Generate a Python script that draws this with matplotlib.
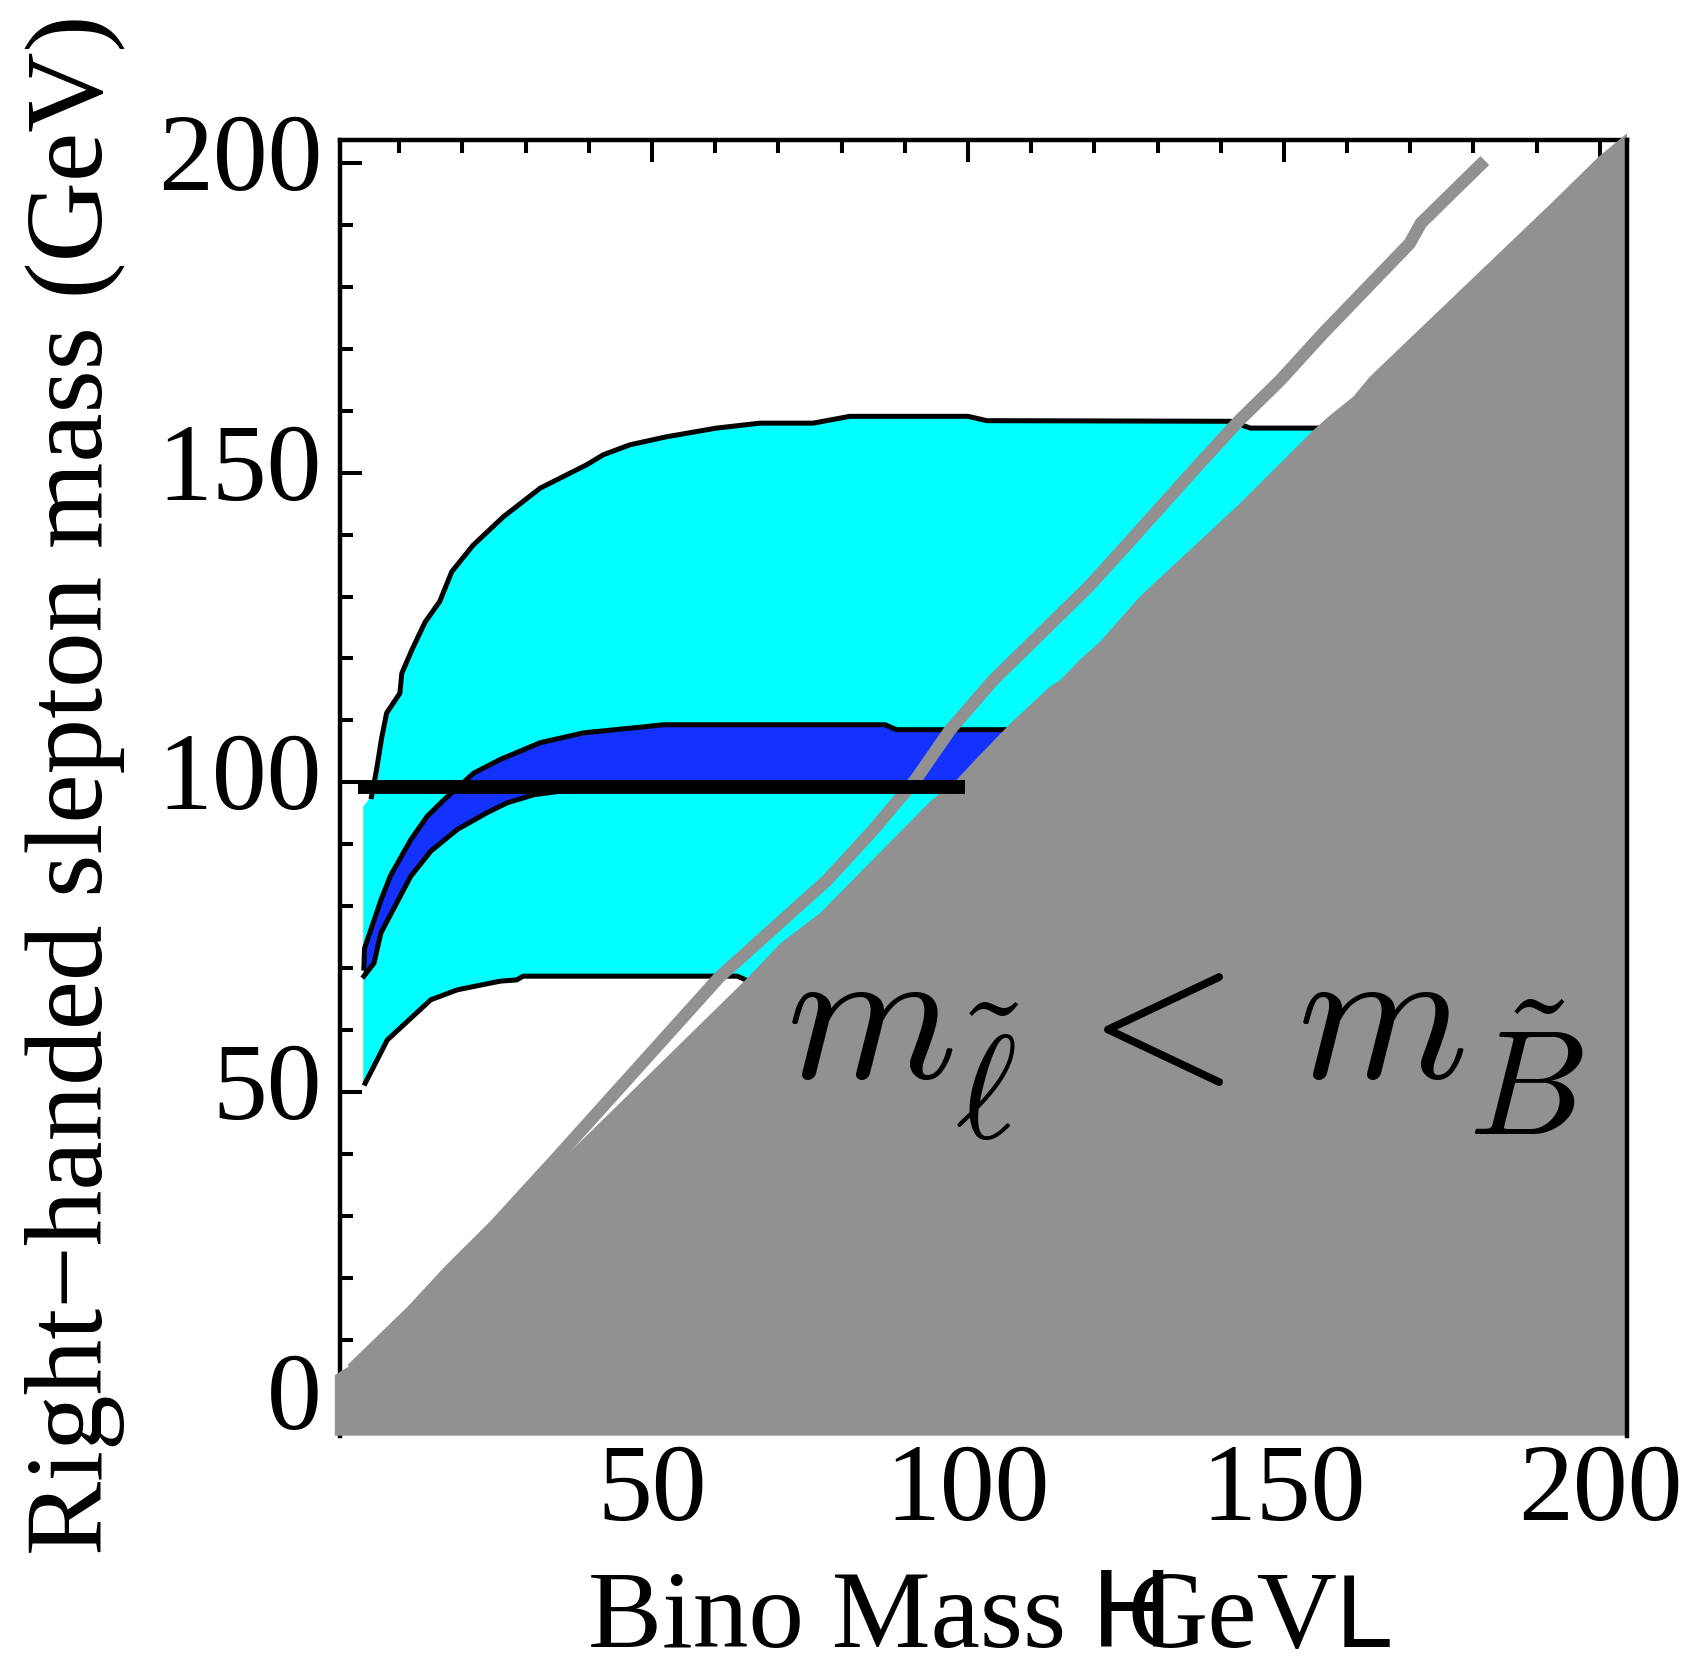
import matplotlib
matplotlib.use("Agg")
import matplotlib.pyplot as plt
from matplotlib import transforms
from matplotlib.ticker import MultipleLocator, FixedLocator

plt.rcParams["mathtext.fontset"] = "cm"

# ---- data (GeV): x = bino mass, y = right-handed slepton mass ----
# outer allowed band (cyan)
cyan_upper_x = [4.3, 5.6, 6.4, 7.2, 8.0, 10.1, 10.4, 12.0, 14.1, 16.4, 18.3, 21.7,
                26.5, 32.3, 39.7, 42.3, 46.5, 52.3, 60.2, 67.1, 75.5, 81.3, 100.0,
                103.0, 141.6, 144.7, 170.0]
cyan_upper_y = [96.1, 97.7, 102.0, 107.1, 111.2, 114.4, 117.6, 121.4, 125.9, 129.2,
                134.0, 138.3, 142.9, 147.5, 151.3, 152.9, 154.5, 155.8, 157.2, 158.0,
                158.0, 159.1, 159.1, 158.4, 158.3, 157.2, 157.2]
cyan_lower_x = [4.3, 4.6, 8.1, 15.0, 19.2, 26.0, 28.6, 29.6, 63.5, 65.5, 75.0]
cyan_lower_y = [51.4, 51.4, 58.4, 64.9, 66.5, 67.9, 68.1, 68.7, 68.7, 67.8, 67.8]

# inner allowed band (blue)
blue_upper_x = [4.4, 4.5, 7.1, 8.6, 11.8, 14.4, 17.1, 21.8, 26.0, 32.3, 39.2, 47.1,
                51.8, 86.9, 88.7, 115.0]
blue_upper_y = [70.0, 73.2, 81.0, 84.9, 90.7, 94.5, 97.2, 101.5, 103.7, 106.4, 108.0,
                108.8, 109.3, 109.3, 108.5, 108.5]
blue_lower_x = [4.4, 6.0, 7.1, 11.8, 15.0, 19.2, 23.9, 27.1, 31.3, 40.0, 55.0, 110.0]
blue_lower_y = [68.7, 70.8, 75.7, 84.8, 88.9, 92.4, 95.1, 96.7, 98.0, 99.2, 99.5, 99.5]

# edge of the region where the slepton is lighter than the bino (gray)
excl_x = [-0.2, -0.2, 3.0, 34.5, 65.0, 70.3, 76.6, 94.0, 98.2, 101.4, 106.7, 113.0,
          114.6, 117.7, 120.9, 127.2, 143.1, 154.7, 157.0, 161.0, 163.6, 192.3, 199.8, 204.3]
excl_y = [-5.5, 4.3, 6.3, 37.8, 68.3, 74.0, 78.9, 96.9, 100.4, 103.9, 109.5, 115.5,
          116.5, 119.8, 122.7, 130.0, 145.1, 156.9, 159.0, 162.3, 165.5, 193.5, 201.0, 204.8]

# gray curve
gline_x = [2.5, 12.0, 18.0, 25.0, 34.5, 60.7, 77.7, 85.0, 91.7, 97.2, 104.0, 119.1,
           124.9, 136.7, 143.0, 149.5, 156.2, 169.9, 171.7, 181.8]
gline_y = [5.2, 14.6, 21.2, 28.3, 38.9, 68.6, 84.2, 92.3, 100.4, 108.5, 116.5, 131.6,
           138.1, 151.5, 158.5, 165.0, 172.5, 187.0, 190.3, 200.4]

# horizontal bound on the slepton mass
bound_mass = 99.3
bound_x = [3.5, 99.5]

x_major = [50, 100, 150, 200]
y_major = [0, 50, 100, 150, 200]
x_labels = ["50", "100", "150", "200"]
y_labels = ["0", "50", "100", "150", "200"]

XLIM = (0.62, 204.3)
YLIM = (-5.5, 203.8)

CYAN = "#00FFFF"
BLUE = "#1432FF"
GRAY = "#919191"
SERIF = "Liberation Serif"
SANS = "Liberation Sans"

W, H = 1692, 1671
fig = plt.figure(figsize=(W / 100, H / 100), dpi=100)
ax = fig.add_axes([340 / W, 1 - 1435.7 / H, 1287 / W, 1296.2 / H])
ax.set_xlim(*XLIM)
ax.set_ylim(*YLIM)

# filled bands
cyan_poly_x = cyan_upper_x + cyan_lower_x[::-1]
cyan_poly_y = cyan_upper_y + cyan_lower_y[::-1]
ax.fill(cyan_poly_x, cyan_poly_y, color=CYAN, lw=0, zorder=1)
blue_poly_x = blue_upper_x + blue_lower_x[::-1]
blue_poly_y = blue_upper_y + blue_lower_y[::-1]
ax.fill(blue_poly_x, blue_poly_y, color=BLUE, lw=0, zorder=1.1)

# band outlines
for xs, ys in [(cyan_upper_x[1:], cyan_upper_y[1:]), (cyan_lower_x[1:], cyan_lower_y[1:]),
               (blue_upper_x, blue_upper_y), (blue_lower_x, blue_lower_y)]:
    ax.plot(xs, ys, color="black", lw=3.6, solid_joinstyle="round", zorder=1.5)

# gray curve
ax.plot(gline_x, gline_y, color=GRAY, lw=9, solid_capstyle="butt", zorder=2)

# excluded region
ex_x = excl_x + [XLIM[1]]
ex_y = excl_y + [YLIM[0]]
ax.fill(ex_x, ex_y, color=GRAY, lw=0, zorder=3, clip_on=False)

# horizontal bound
ax.plot(bound_x, [bound_mass, bound_mass], color="black", lw=10,
        solid_capstyle="butt", zorder=4)

# frame and ticks
for s in ax.spines.values():
    s.set_linewidth(3.2)
ax.spines["bottom"].set_visible(False)
ax.spines["right"].set_zorder(5)
ax.xaxis.set_major_locator(FixedLocator(x_major))
ax.yaxis.set_major_locator(FixedLocator(y_major))
ax.xaxis.set_minor_locator(MultipleLocator(10))
ax.yaxis.set_minor_locator(MultipleLocator(10))
ax.tick_params(which="both", direction="in", top=True, bottom=False, left=True,
               right=False, labelleft=False, labelbottom=False, width=2.9)
ax.tick_params(which="major", length=15.8)
ax.tick_params(which="minor", length=9)

# tick labels
px = 1 / 100
ytr = ax.get_yaxis_transform() + transforms.ScaledTranslation(-18 * px, -27 * px, fig.dpi_scale_trans)
for v, lab in zip(y_major, y_labels):
    ax.text(0, v, lab, transform=ytr, ha="right", va="baseline", fontsize=79,
            family=SERIF, clip_on=False)
xtr = ax.get_xaxis_transform() + transforms.ScaledTranslation(0, -84 * px, fig.dpi_scale_trans)
for v, lab in zip(x_major, x_labels):
    ax.text(v, 0, lab, transform=xtr, ha="center", va="baseline", fontsize=79,
            family=SERIF, clip_on=False)


def ftext(x, y, s, **kw):
    """Place text at figure pixel coordinates (origin top-left)."""
    return fig.text(x / W, 1 - y / H, s, **kw)


# axis titles
ftext(102, 785, "Right\u2212handed slepton mass (GeV)", rotation=90,
      rotation_mode="anchor", ha="center", va="baseline", fontsize=80, family=SERIF)
XB = 1647
ftext(588, XB, "Bino Mass", ha="left", va="baseline", fontsize=80, family=SERIF)
ftext(1092, XB, "H", ha="left", va="baseline", fontsize=80, family=SANS)
ftext(1128, XB, "GeV", ha="left", va="baseline", fontsize=80, family=SERIF)
ftext(1336, XB, "L", ha="left", va="baseline", fontsize=74, family=SANS)

# region label: m_slepton < m_bino
ftext(786, 1078, r"$m$", ha="left", va="baseline", fontsize=140, zorder=6)
ftext(955, 1139, r"$\tilde{\ell}$", ha="left", va="baseline", fontsize=106, zorder=6)
ftext(1053, 1078, r"$<$", ha="left", va="baseline", fontsize=140, zorder=6)
ftext(1297, 1078, r"$m$", ha="left", va="baseline", fontsize=140, zorder=6)
ftext(1468, 1135, r"$\tilde{B}$", ha="left", va="baseline", fontsize=108, zorder=6)

fig.savefig("out.png", dpi=100)
